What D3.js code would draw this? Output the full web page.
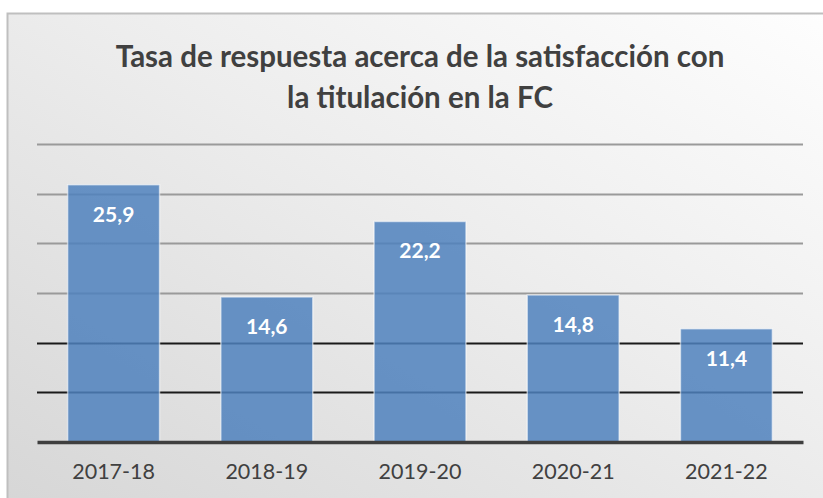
<!DOCTYPE html>
<html>
<head>
<meta charset="utf-8">
<script src="https://cdn.jsdelivr.net/npm/d3@7"></script>
<style>
  body { margin: 0; background: #ffffff; }
  svg { display: block; }
</style>
</head>
<body>
<div id="chart"></div>
<script>
// Survey response rate data
const years = ["2017-18", "2018-19", "2019-20", "2020-21", "2021-22"];
const rates = [25.9, 14.6, 22.2, 14.8, 11.4];
const gridTicks = [5, 10, 15, 20, 25, 30];
const titleLines = ["Tasa de respuesta acerca de la satisfacción con", "la titulación en la FC"];

const width = 823;
const height = 498;
const margin = { top: 144, right: 20, bottom: 56, left: 37 };

const svg = d3.select("#chart")
    .append("svg")
    .attr("width", width)
    .attr("height", height);

// Background gradient like the Excel chart area
const defs = svg.append("defs");
const grad = defs.append("linearGradient")
    .attr("id", "bg")
    .attr("x1", "100%").attr("y1", "0%")
    .attr("x2", "0%").attr("y2", "100%");
grad.append("stop").attr("offset", "0%").attr("stop-color", "#fefefe");
grad.append("stop").attr("offset", "45%").attr("stop-color", "#ededed");
grad.append("stop").attr("offset", "100%").attr("stop-color", "#d6d6d6");

svg.append("rect")
    .attr("x", 7.5)
    .attr("y", 13.5)
    .attr("width", width + 10)
    .attr("height", height)
    .attr("fill", "url(#bg)")
    .attr("stroke", "#bfbfbf")
    .attr("stroke-width", 2);

const x = d3.scaleBand()
    .domain(years)
    .range([margin.left, width - margin.right])
    .paddingInner(0.4)
    .paddingOuter(0.2);

const y = d3.scaleLinear()
    .domain([0, 30])
    .range([height - margin.bottom, margin.top]);

// Gridlines
svg.append("g")
    .selectAll("line")
    .data(gridTicks)
    .join("line")
    .attr("x1", margin.left)
    .attr("x2", width - margin.right)
    .attr("y1", d => Math.round(y(d)) + 0.5)
    .attr("y2", d => Math.round(y(d)) + 0.5)
    .attr("stroke", d => d <= 10 ? "#1a1a1a" : "#9a9a9a")
    .attr("stroke-width", 2);

// Bars (semi-transparent so the gridlines show through)
svg.append("g")
    .selectAll("rect")
    .data(rates)
    .join("rect")
    .attr("x", (d, i) => x(years[i]))
    .attr("y", d => y(d))
    .attr("width", x.bandwidth())
    .attr("height", d => y(0) - y(d))
    .attr("fill", "#4f81bd")
    .attr("fill-opacity", 0.85)
    .attr("stroke", "#ffffff")
    .attr("stroke-opacity", 0.55)
    .attr("stroke-width", 1.5);

// Value labels
svg.append("g")
    .selectAll("text")
    .data(rates)
    .join("text")
    .attr("x", (d, i) => x(years[i]) + x.bandwidth() / 2)
    .attr("y", d => y(d) + 37)
    .attr("text-anchor", "middle")
    .attr("fill", "#ffffff")
    .attr("font-family", "Lato, 'Open Sans', sans-serif")
    .attr("font-size", "21px")
    .attr("font-weight", "bold")
    .text(d => d.toFixed(1).replace(".", ","));

// X axis
const xAxis = svg.append("g")
    .attr("transform", `translate(0,${y(0)})`)
    .call(d3.axisBottom(x).tickSize(0).tickPadding(22));
xAxis.select(".domain")
    .attr("stroke", "#3f3f3f")
    .attr("stroke-width", 3.5);
xAxis.selectAll("text")
    .attr("fill", "#404040")
    .attr("font-family", "Lato, 'Open Sans', sans-serif")
    .attr("font-size", "21.5px");

// Title
svg.append("g")
    .selectAll("text")
    .data(titleLines)
    .join("text")
    .attr("x", 420)
    .attr("y", (d, i) => 67 + i * 41)
    .attr("text-anchor", "middle")
    .attr("fill", "#404040")
    .attr("font-family", "Lato, 'Open Sans', sans-serif")
    .attr("font-size", "29.5px")
    .attr("font-weight", "bold")
    .text(d => d);
</script>
</body>
</html>
